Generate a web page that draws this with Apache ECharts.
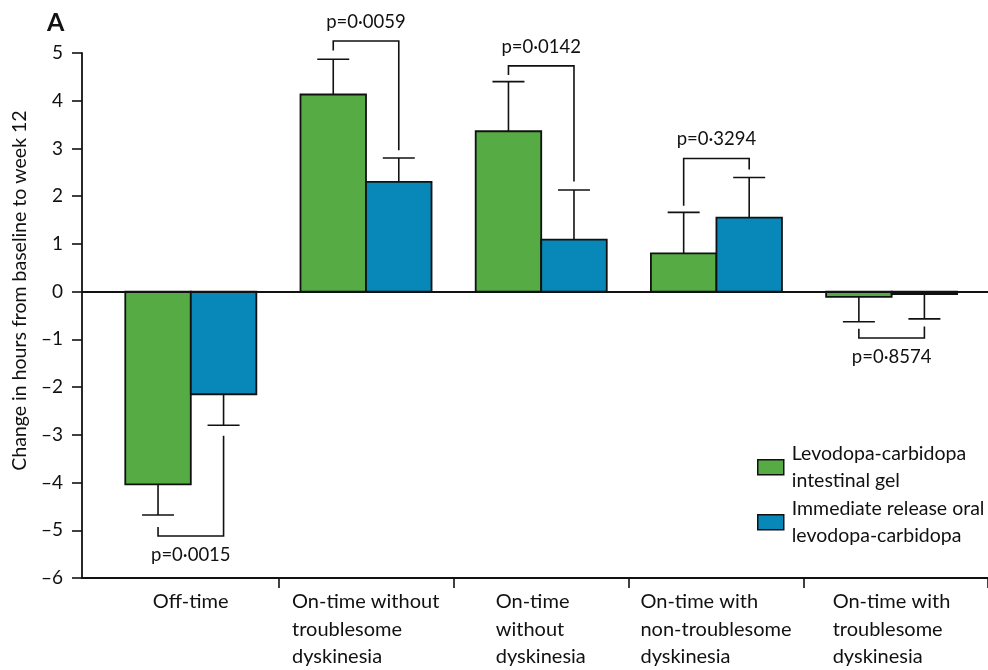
<!DOCTYPE html>
<html>
<head>
<meta charset="utf-8">
<script src="https://cdn.jsdelivr.net/npm/echarts@6/dist/echarts.min.js"></script>
<style>
  html, body { margin: 0; padding: 0; background: #fff; }
  #main { width: 988px; height: 670px; }
</style>
</head>
<body>
<div id="main"></div>
<script>
// values (hours, change from baseline to week 12)
const categories = [
  'Off-time',
  'On-time without\ntroublesome\ndyskinesia',
  'On-time\nwithout\ndyskinesia',
  'On-time with\nnon-troublesome\ndyskinesia',
  'On-time with\ntroublesome\ndyskinesia'
];
const lcigMean = [-4.04, 4.13, 3.36, 0.80, -0.11];
const lcigErr = [0.64, 0.74, 1.04, 0.86, 0.52];
const oralMean = [-2.15, 2.30, 1.09, 1.55, -0.05];
const oralErr = [0.65, 0.50, 1.04, 0.84, 0.52];

const pLabels = ['p=0·0015', 'p=0·0059', 'p=0·0142', 'p=0·3294', 'p=0·8574'];
const pLevel = [-5.12, 5.25, 4.73, 2.79, -0.97];
const pLeftEnd = [-4.93, 5.05, 4.54, 1.80, -0.78];
const pRightEnd = [-3.02, 2.96, 2.31, 2.56, -0.73];

const seriesNames = ['Levodopa-carbidopa\nintestinal gel', 'Immediate release oral\nlevodopa-carbidopa'];

const FONT = 'Lato';
const INK = '#111';
const GREEN = '#56AB45';
const BLUE = '#0888B8';
const BAR_W = 0.374; // in category units
const TEXT_SIZE = 20;

// width of the widest line of each x label, so lines can be left aligned inside a centred block
const ctx = document.createElement('canvas').getContext('2d');
ctx.font = TEXT_SIZE + 'px ' + FONT;
const labelRich = {};
categories.forEach((c, i) => {
  const w = Math.max(...c.split('\n').map(l => ctx.measureText(l).width));
  labelRich['c' + i] = { width: Math.ceil(w), align: 'left', lineHeight: 27.5, fontSize: TEXT_SIZE, fontFamily: FONT, color: INK };
});

function barRenderer(side, color) {
  return function (params, api) {
    const i = api.value(0), v = api.value(1), e = api.value(2);
    const x0 = side < 0 ? i - BAR_W : i;
    const pBase = api.coord([x0, 0]);
    const pEnd = api.coord([x0 + BAR_W, v]);
    const cx = (pBase[0] + pEnd[0]) / 2;
    const dir = v < 0 ? -1 : 1;
    const errY = api.coord([i, v + dir * e])[1];
    return {
      type: 'group',
      children: [
        { type: 'rect',
          shape: { x: pBase[0], y: Math.min(pBase[1], pEnd[1]), width: pEnd[0] - pBase[0], height: Math.abs(pEnd[1] - pBase[1]) },
          style: { fill: color, stroke: INK, lineWidth: 1.8 } },
        { type: 'line', shape: { x1: cx, y1: pEnd[1], x2: cx, y2: errY }, style: { stroke: INK, lineWidth: 1.6 } },
        { type: 'line', shape: { x1: cx - 16, y1: errY, x2: cx + 16, y2: errY }, style: { stroke: INK, lineWidth: 1.6 } }
      ]
    };
  };
}

function bracketRenderer(params, api) {
  const i = api.value(0), lvl = api.value(1);
  const gx = api.coord([i - BAR_W / 2, lvl])[0];
  const bx = api.coord([i + BAR_W / 2, lvl])[0];
  const ly = api.coord([i, lvl])[1];
  const gy = api.coord([i, api.value(2)])[1];
  const by = api.coord([i, api.value(3)])[1];
  return {
    type: 'group',
    children: [
      { type: 'polyline', shape: { points: [[gx, gy], [gx, ly], [bx, ly], [bx, by]] },
        style: { stroke: INK, lineWidth: 1.6, fill: null } },
      { type: 'text', x: (gx + bx) / 2, y: ly + (lvl < 0 ? 19 : -19),
        style: { text: pLabels[params.dataIndex], align: 'center', verticalAlign: 'middle',
                 fontSize: 18.5, fontFamily: FONT, fill: INK } }
    ]
  };
}

const chart = echarts.init(document.getElementById('main'));

function legendFor(name, top) {
  return {
    data: [name],
    left: 757,
    top: top,
    padding: 0,
    selectedMode: false,
    icon: 'rect',
    itemWidth: 26,
    itemHeight: 15,
    itemStyle: { borderColor: INK, borderWidth: 1.5 },
    textStyle: { fontSize: 19.5, fontFamily: FONT, color: INK, lineHeight: 26.5, padding: [26.5, 0, 0, 3] }
  };
}

const option = {
  animation: false,
  backgroundColor: '#fff',
  title: {
    text: 'A', left: 42, top: 5,
    textStyle: { fontSize: 25, fontWeight: 'bold', fontFamily: FONT, color: INK }
  },
  legend: [legendFor(seriesNames[0], 427.5), legendFor(seriesNames[1], 482.5)],
  grid: { left: 82, right: 0, top: 53, bottom: 92 },
  xAxis: {
    type: 'value',
    min: -0.621,
    max: 4.55,
    splitLine: { show: false },
    axisLine: { onZero: false, lineStyle: { color: INK, width: 1.8 } },
    axisTick: { customValues: [0.5, 1.5, 2.5, 3.5, 4.55], length: 10, lineStyle: { color: INK, width: 1.6 } },
    axisLabel: {
      customValues: [0, 1, 2, 3, 4],
      margin: 10,
      formatter: v => {
        const i = Math.round(v);
        return categories[i].split('\n').map(l => '{c' + i + '|' + l + '}').join('\n');
      },
      rich: labelRich
    }
  },
  yAxis: {
    type: 'value',
    min: -6,
    max: 5,
    interval: 1,
    name: 'Change in hours from baseline to week 12',
    nameLocation: 'middle',
    nameGap: 50,
    nameTextStyle: { fontSize: 19.5, fontFamily: FONT, color: INK, padding: [0, 0, 0, 50] },
    splitLine: { show: false },
    axisLine: { show: true, onZero: false, lineStyle: { color: INK, width: 1.8 } },
    axisTick: { show: true, length: 10, lineStyle: { color: INK, width: 1.6 } },
    axisLabel: {
      margin: 19,
      fontSize: 19,
      fontFamily: FONT,
      color: INK,
      formatter: v => (v < 0 ? '–' + Math.abs(v) : String(v))
    }
  },
  series: [
    {
      name: seriesNames[0],
      type: 'custom',
      renderItem: barRenderer(-1, GREEN),
      itemStyle: { color: GREEN },
      encode: { x: 0, y: [1, 2] },
      data: lcigMean.map((v, i) => [i, v, lcigErr[i]]),
      markLine: {
        silent: true, symbol: 'none', label: { show: false },
        lineStyle: { color: INK, width: 1.8, type: 'solid' },
        data: [{ yAxis: 0 }]
      },
      z: 3
    },
    {
      name: seriesNames[1],
      type: 'custom',
      renderItem: barRenderer(1, BLUE),
      itemStyle: { color: BLUE },
      encode: { x: 0, y: [1, 2] },
      data: oralMean.map((v, i) => [i, v, oralErr[i]]),
      z: 3
    },
    {
      name: 'p values',
      type: 'custom',
      renderItem: bracketRenderer,
      encode: { x: 0, y: [1, 2, 3] },
      data: pLevel.map((v, i) => [i, v, pLeftEnd[i], pRightEnd[i]]),
      z: 4
    }
  ]
};

chart.setOption(option);
</script>
</body>
</html>
